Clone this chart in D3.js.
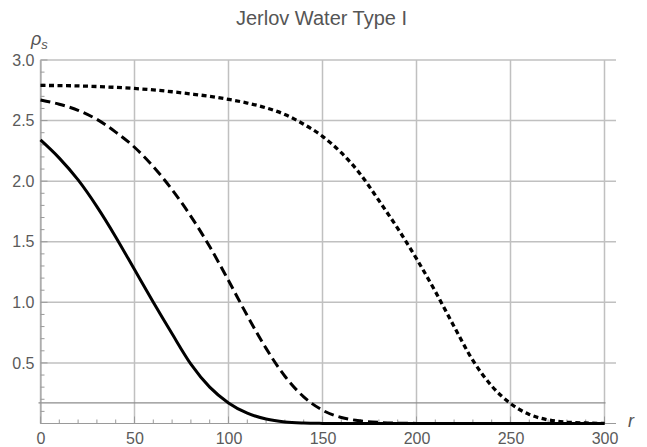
<!DOCTYPE html>
<html>
<head>
<meta charset="utf-8">
<script src="https://cdn.jsdelivr.net/npm/d3@7"></script>
<style>
  body { margin: 0; background: #fff; }
  text { font-family: 'Liberation Sans', Arial, sans-serif; }
</style>
</head>
<body>
<script>
'use strict';

const w = 647;
const h = 447;

// r values (sampled every 10)
const radius = [0, 10, 20, 30, 40, 50, 60, 70, 80, 90, 100, 110, 120, 130, 140, 150,
  160, 170, 180, 190, 200, 210, 220, 230, 240, 250, 260, 270, 280, 290, 300];

// rho_s
const solid = [2.34, 2.19, 2.01, 1.79, 1.54, 1.27, 1.00, 0.74, 0.49, 0.30, 0.17, 0.085, 0.037, 0.013, 0.004, 0.001,
  0, 0, 0, 0, 0, 0, 0, 0, 0, 0, 0, 0, 0, 0, 0];
const dashed = [2.67, 2.635, 2.585, 2.51, 2.405, 2.28, 2.12, 1.93, 1.71, 1.46, 1.18, 0.89, 0.62, 0.39, 0.22, 0.11,
  0.05, 0.022, 0.009, 0.003, 0.001, 0, 0, 0, 0, 0, 0, 0, 0, 0, 0];
const dotted = [2.79, 2.789, 2.786, 2.781, 2.774, 2.765, 2.753, 2.738, 2.72, 2.70, 2.675, 2.645, 2.605, 2.55, 2.47, 2.37,
  2.235, 2.06, 1.84, 1.61, 1.36, 1.09, 0.80, 0.52, 0.31, 0.165, 0.075, 0.03, 0.011, 0.004, 0.001];

const xTicks = [0, 50, 100, 150, 200, 250, 300];
const yTicks = [0.5, 1.0, 1.5, 2.0, 2.5, 3.0];
const refLevel = 0.17;

const svg = d3.select('body').append('svg').attr('width', w).attr('height', h);

const x = d3.scaleLinear().domain([0, 300]).range([40.5, 604.5]);
const y = d3.scaleLinear().domain([0, 3]).range([423.5, 60]);
const xRight = 616;

// grid
svg.append('g').selectAll('line')
  .data(xTicks)
  .enter()
  .append('line')
  .attr('x1', (d) => x(d)).attr('x2', (d) => x(d))
  .attr('y1', y(3)).attr('y2', y(0))
  .attr('stroke', '#c0c0c0').attr('stroke-width', 1.5);

svg.append('g').selectAll('line')
  .data(yTicks)
  .enter()
  .append('line')
  .attr('x1', x(0)).attr('x2', xRight)
  .attr('y1', (d) => y(d)).attr('y2', (d) => y(d))
  .attr('stroke', '#c0c0c0').attr('stroke-width', 1.5);

// reference level
svg.append('line')
  .attr('x1', x(0) - 2).attr('x2', x(300) + 1)
  .attr('y1', y(refLevel)).attr('y2', y(refLevel))
  .attr('stroke', '#8c8c8c').attr('stroke-width', 1.2);

// axes
const gx = svg.append('g').attr('transform', `translate(0,${y(0)})`)
  .call(d3.axisBottom(x).tickValues(xTicks).tickSize(0).tickPadding(9).tickFormat(d3.format('d')));
const gy = svg.append('g').attr('transform', `translate(${x(0)},0)`)
  .call(d3.axisLeft(y).tickValues(yTicks).tickSize(0).tickPadding(6).tickFormat(d3.format('.1f')));

gx.select('.domain').attr('d', `M${x(0)},0H${xRight}`);
[gx, gy].forEach((g) => {
  g.select('.domain').attr('stroke', '#9a9a9a');
  g.selectAll('text').attr('fill', '#5a5a5a').attr('font-size', 16)
    .attr('font-family', "'Liberation Sans', Arial, sans-serif");
});

// minor ticks, pointing inward
const xMinor = d3.range(0, 301, 10);
svg.append('g').selectAll('line')
  .data(xMinor)
  .enter()
  .append('line')
  .attr('x1', (d) => x(d)).attr('x2', (d) => x(d))
  .attr('y1', y(0)).attr('y2', (d) => y(0) - (d % 50 === 0 ? 7 : 4))
  .attr('stroke', '#9a9a9a');

const yMinor = d3.range(1, 31).map((d) => d / 10);
svg.append('g').selectAll('line')
  .data(yMinor)
  .enter()
  .append('line')
  .attr('x1', x(0)).attr('x2', (d, i) => x(0) + ((i + 1) % 5 === 0 ? 7 : 4))
  .attr('y1', (d) => y(d)).attr('y2', (d) => y(d))
  .attr('stroke', '#9a9a9a');

// curves
const line = d3.line()
  .x((d) => x(d[0]))
  .y((d) => y(Math.max(0, d[1])))
  .curve(d3.curveMonotoneX);

const series = [
  { vals: dotted, dash: '5,3.5', width: 3.3 },
  { vals: dashed, dash: '10,5', width: 3 },
  { vals: solid, dash: null, width: 3 }
];

svg.append('g').selectAll('path')
  .data(series)
  .enter()
  .append('path')
  .attr('d', (s) => line(radius.map((r, i) => [r, s.vals[i]])))
  .attr('fill', 'none')
  .attr('stroke', '#000')
  .attr('stroke-width', (s) => s.width)
  .attr('stroke-dasharray', (s) => s.dash);

// title and axis labels
svg.append('text')
  .text('Jerlov Water Type I')
  .attr('x', 321.5)
  .attr('y', 25)
  .attr('text-anchor', 'middle')
  .attr('font-size', 20)
  .attr('fill', '#555');

const ylab = svg.append('text')
  .attr('x', 31)
  .attr('y', 45)
  .attr('font-size', 18)
  .attr('font-style', 'italic')
  .attr('fill', '#555');
ylab.append('tspan').text('ρ');
ylab.append('tspan').text('s').attr('font-size', 13).attr('dy', 4);

svg.append('text')
  .text('r')
  .attr('x', 628)
  .attr('y', 427)
  .attr('font-size', 18)
  .attr('font-style', 'italic')
  .attr('fill', '#555');
</script>
</body>
</html>
